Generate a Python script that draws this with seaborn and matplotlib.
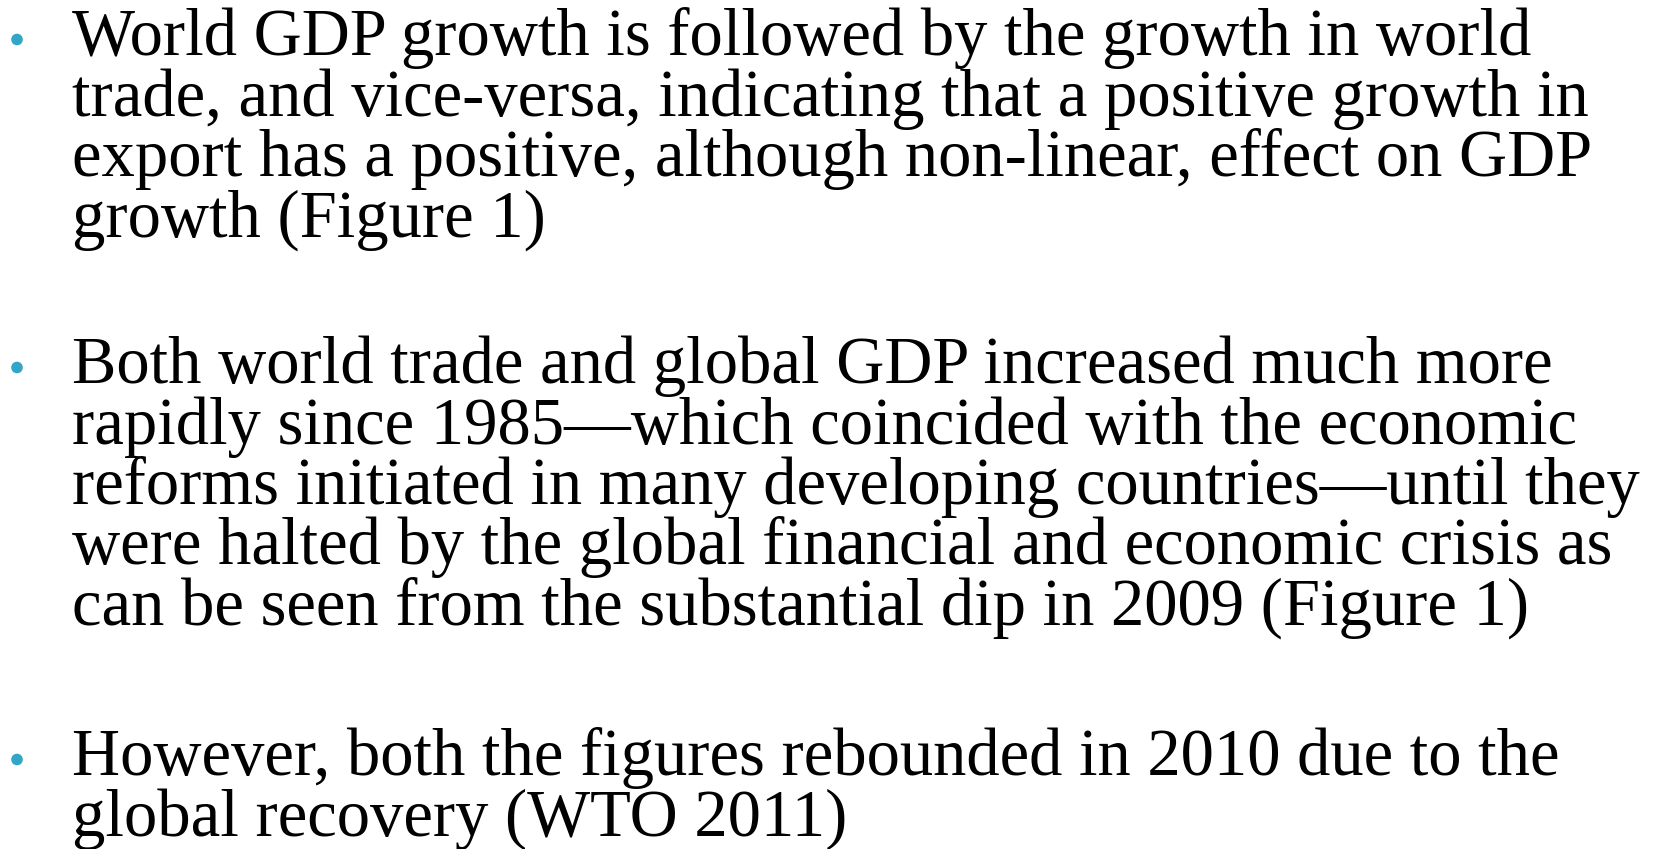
import numpy as np
import pandas as pd
import matplotlib
matplotlib.use('Agg')
import matplotlib.pyplot as plt
import seaborn as sns

# Slide text, one list per bullet (line breaks as on the slide)
bullet_1 = ['World GDP growth is followed by the growth in world',
            'trade, and vice-versa, indicating that a positive growth in',
            'export has a positive, although non-linear, effect on GDP',
            'growth (Figure 1)']
bullet_2 = ['Both world trade and global GDP increased much more',
            'rapidly since 1985\u2014which coincided with the economic',
            'reforms initiated in many developing countries\u2014until they',
            'were halted by the global financial and economic crisis as',
            'can be seen from the substantial dip in 2009 (Figure 1)']
bullet_3 = ['However, both the figures rebounded in 2010 due to the',
            'global recovery (WTO 2011)']
bullets = [bullet_1, bullet_2, bullet_3]

# Layout (pixel coords of the 1674x849 slide)
W, H = 1674, 849
para_start = [55, 383, 775]
line_gap = 60.5
text_x = 72
bullet_x = 17
target_width = 1570  # widest line ends near the right edge
bullet_color = '#31a6c6'

sns.set_theme(style='white')
plt.rcParams['font.family'] = ['Liberation Serif', 'DejaVu Serif']

fig = plt.figure(figsize=(W / 100, H / 100), dpi=100)
ax = fig.add_axes([0, 0, 1, 1])

# fit the font size so the longest line spans about the same width as on the slide
renderer = fig.canvas.get_renderer()
probe = ax.text(0, 0, '', fontsize=44)
widths = []
for line in sum(bullets, []):
    probe.set_text(line)
    widths.append(probe.get_window_extent(renderer).width)
probe.remove()
fs = 44 * target_width / max(widths)

bx, by = [], []
for start, lines in zip(para_start, bullets):
    bx.append(bullet_x)
    by.append(start - 15.5)
    for i, line in enumerate(lines):
        ax.text(text_x, start + i * line_gap, line, fontsize=fs,
                color='black', va='baseline', ha='left')

dots = pd.DataFrame({'x': bx, 'y': by})
sns.scatterplot(data=dots, x='x', y='y', ax=ax, s=70, color=bullet_color,
                edgecolor='none', legend=False)
ax.set_xlim(0, W)
ax.set_ylim(H, 0)
ax.axis('off')

fig.savefig('out.png', dpi=100, facecolor='white')
